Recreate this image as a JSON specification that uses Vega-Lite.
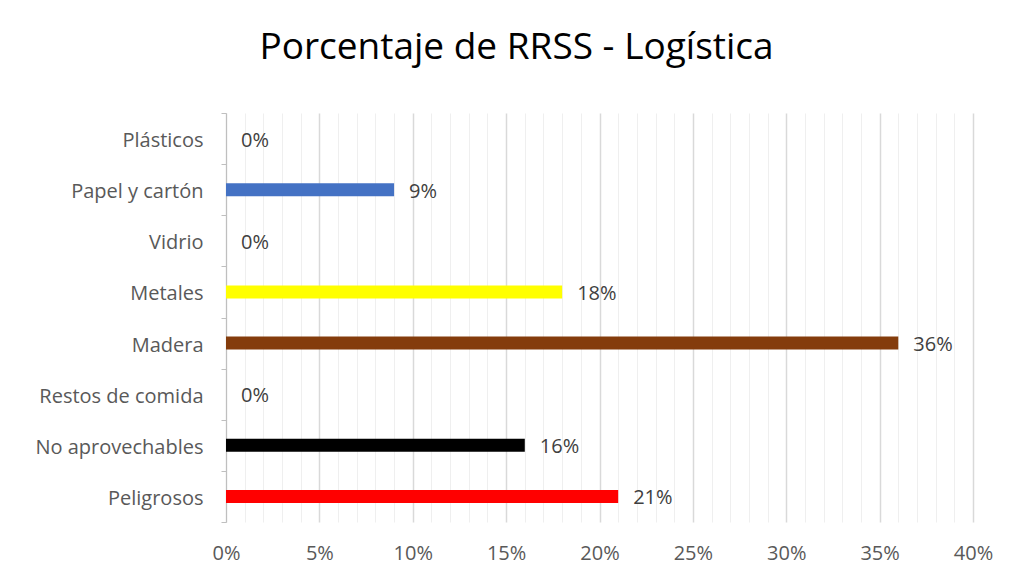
{
  "$schema": "https://vega.github.io/schema/vega-lite/v6.json",
  "autosize": "none",
  "width": 747,
  "height": 409,
  "padding": {"left": 226, "top": 113, "right": 41, "bottom": 59},
  "background": "white",
  "config": {"view": {"stroke": null}, "font": "Open Sans, sans-serif"},
  "title": {
    "text": "Porcentaje de RRSS - Logística",
    "fontSize": 37,
    "fontWeight": "normal",
    "color": "#000000",
    "font": "Open Sans, sans-serif",
    "anchor": "middle",
    "dx": -83,
    "offset": 36
  },
  "data": {
    "values": [
      {"categoria": "Plásticos", "valor": 0},
      {"categoria": "Papel y cartón", "valor": 0.09},
      {"categoria": "Vidrio", "valor": 0},
      {"categoria": "Metales", "valor": 0.18},
      {"categoria": "Madera", "valor": 0.36},
      {"categoria": "Restos de comida", "valor": 0},
      {"categoria": "No aprovechables", "valor": 0.16},
      {"categoria": "Peligrosos", "valor": 0.21}
    ]
  },
  "encoding": {
    "y": {
      "field": "categoria",
      "type": "nominal",
      "sort": null,
      "title": null,
      "scale": {"paddingInner": 0, "paddingOuter": 0},
      "axis": {
        "domainColor": "#bfbfbf",
        "domainWidth": 1,
        "tickColor": "#bfbfbf",
        "tickSize": 5,
        "tickBand": "extent",
        "labelFontSize": 20,
        "labelColor": "#595959",
        "labelPadding": 18,
        "labelOffset": 2,
        "labelFont": "Open Sans, sans-serif"
      }
    },
    "x": {
      "field": "valor",
      "type": "quantitative",
      "title": null,
      "scale": {"domain": [0, 0.4], "nice": false, "zero": true},
      "axis": {
        "values": [0,0.01,0.02,0.03,0.04,0.05,0.06,0.07,0.08,0.09,0.1,0.11,0.12,0.13,0.14,0.15,0.16,0.17,0.18,0.19,0.2,0.21,0.22,0.23,0.24,0.25,0.26,0.27,0.28,0.29,0.3,0.31,0.32,0.33,0.34,0.35,0.36,0.37,0.38,0.39,0.4],
        "labelExpr": "round(datum.value*100) % 5 === 0 ? format(datum.value, '.0%') : ''",
        "grid": true,
        "gridColor": {"condition": {"test": "round(datum.value*100) % 5 === 0", "value": "#d9d9d9"}, "value": "#efefef"},
        "gridWidth": {"condition": {"test": "round(datum.value*100) % 5 === 0", "value": 1.5}, "value": 1},
        "domain": false,
        "ticks": false,
        "labelFontSize": 20,
        "labelColor": "#595959",
        "labelPadding": 21,
        "labelFont": "Open Sans, sans-serif",
        "labelFlush": false
      }
    }
  },
  "layer": [
    {
      "mark": {"type": "bar", "size": 13},
      "encoding": {
        "color": {
          "field": "categoria",
          "type": "nominal",
          "legend": null,
          "scale": {
            "domain": ["Plásticos", "Papel y cartón", "Vidrio", "Metales", "Madera", "Restos de comida", "No aprovechables", "Peligrosos"],
            "range": ["#a5a5a5", "#4472c4", "#70ad47", "#ffff00", "#843c0c", "#ed7d31", "#000000", "#ff0000"]
          }
        }
      }
    },
    {
      "mark": {"type": "text", "align": "left", "baseline": "middle", "dx": 15, "dy": 2, "fontSize": 20, "color": "#404040", "font": "Open Sans, sans-serif"},
      "encoding": {
        "text": {"field": "valor", "type": "quantitative", "format": ".0%"}
      }
    }
  ]
}
